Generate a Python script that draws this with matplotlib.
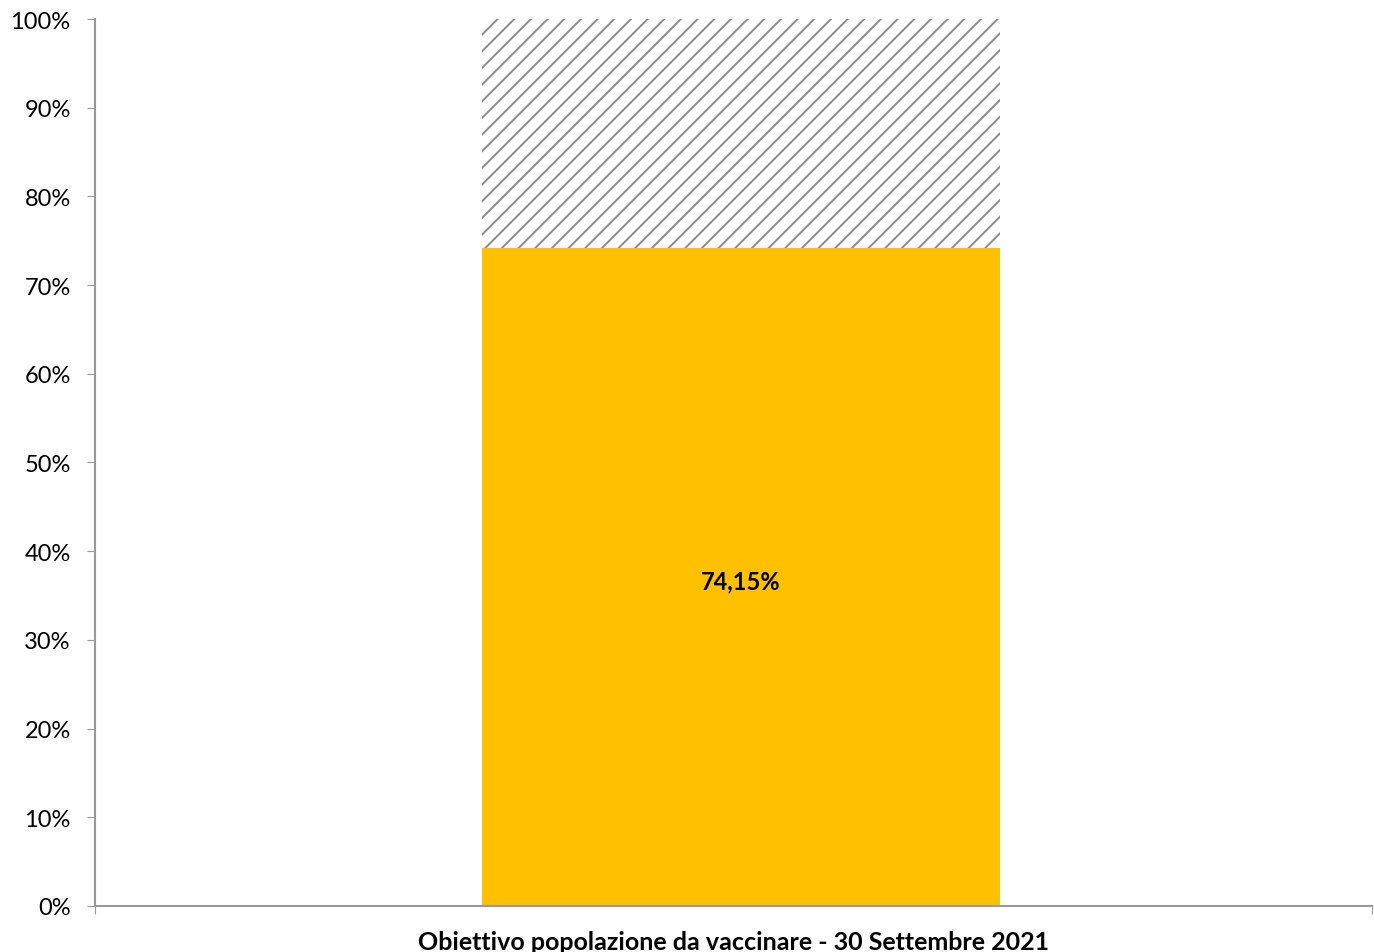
import matplotlib.pyplot as plt
from matplotlib.ticker import FuncFormatter

plt.rcParams["font.family"] = ["Lato", "DejaVu Sans"]
plt.rcParams["hatch.linewidth"] = 1.4

categoria = ["Obiettivo popolazione da vaccinare - 30 Settembre 2021"]
vaccinati = [74.15]
mancanti = [100 - v for v in vaccinati]
etichette = ["74,15%"]

fig = plt.figure(figsize=(13.74, 9.53), dpi=100)
ax = fig.add_axes([0.0691, 0.0483, 0.9294, 0.9307])

x = [0]
ax.bar(x, vaccinati, width=0.406, color="#FFC000", edgecolor="none")
ax.bar(x, mancanti, width=0.406, bottom=vaccinati, color="white",
       edgecolor="#8C8C8C", hatch="//", linewidth=0)

for xi, v, lab in zip(x, vaccinati, etichette):
    ax.text(xi, v / 2 - 0.4, lab, ha="center", va="center",
            fontsize=17, fontweight="bold", color="black")

ax.set_xlim(-0.506, 0.494)
ax.set_ylim(0, 100)
ax.set_yticks(range(0, 101, 10))
ax.yaxis.set_major_formatter(FuncFormatter(lambda v, _: f"{v:.0f}%"))
ax.tick_params(axis="y", labelsize=17, length=5.5, color="#999999", pad=12)

ax.set_xticks([-0.506, 0.494])
ax.set_xticklabels([])
ax.tick_params(axis="x", length=5.5, color="#999999")
ax.set_xlabel(categoria[0], fontsize=18, fontweight="bold", labelpad=8)

for side in ["top", "right"]:
    ax.spines[side].set_visible(False)
for side in ["left", "bottom"]:
    ax.spines[side].set_color("#999999")
    ax.spines[side].set_linewidth(1.5)

fig.savefig("out.png", dpi=100)
